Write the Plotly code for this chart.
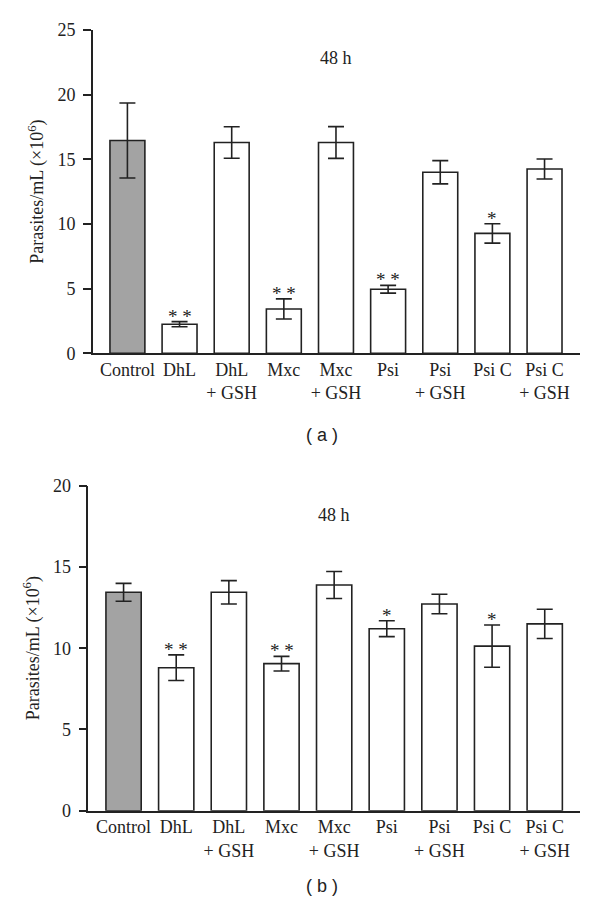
import plotly.graph_objects as go

categories = ["Control", "DhL", "DhL<br>+ GSH", "Mxc", "Mxc<br>+ GSH", "Psi",
              "Psi<br>+ GSH", "Psi C", "Psi C<br>+ GSH"]

# Panel (a) 48 h
values_a = [16.45, 2.25, 16.3, 3.43, 16.3, 4.95, 14.0, 9.27, 14.25]
errors_a = [2.9, 0.2, 1.22, 0.78, 1.23, 0.3, 0.9, 0.75, 0.77]
stars_a = ["", "**", "", "**", "", "**", "", "*", ""]

# Panel (b) 48 h
values_b = [13.44, 8.8, 13.44, 9.05, 13.89, 11.2, 12.72, 10.13, 11.5]
errors_b = [0.55, 0.79, 0.72, 0.45, 0.83, 0.49, 0.6, 1.3, 0.9]
stars_b = ["", "**", "", "**", "", "*", "", "*", ""]

yticks_a = [0, 5, 10, 15, 20, 25]
yticks_b = [0, 5, 10, 15, 20]

INK = "#222222"
SERIF = "Liberation Serif, Times New Roman, serif"
FS = 18
W, H, OFF = 584, 898, 8   # page body has an 8px margin
fill = ["#a3a3a3"] + ["#ffffff"] * (len(categories) - 1)
xs = list(range(len(categories)))


def px_x(v):
    return (v - OFF) / W


def px_y(v):
    return 1 - (v - OFF) / H


fig = go.Figure()
for vals, errs, xa, ya in [(values_a, errors_a, "x", "y"), (values_b, errors_b, "x2", "y2")]:
    fig.add_trace(go.Bar(
        x=xs, y=vals, xaxis=xa, yaxis=ya, width=0.67,
        marker=dict(color=fill, line=dict(color=INK, width=1.6)),
        error_y=dict(type="data", array=errs, visible=True, color=INK,
                     thickness=1.6, width=8),
        showlegend=False, hoverinfo="skip",
    ))

annotations = []
for vals, errs, stars, xa, ya in [(values_a, errors_a, stars_a, "x", "y"),
                                  (values_b, errors_b, stars_b, "x2", "y2")]:
    for i, s in enumerate(stars):
        if s:
            annotations.append(dict(x=i, y=vals[i] + errs[i], xref=xa, yref=ya,
                                    text=" ".join(s), showarrow=False, yanchor="bottom",
                                    yshift=-7, font=dict(family=SERIF, size=19, color=INK)))

annotations.append(dict(x=4, y=22.8, xref="x", yref="y", text="48 h", showarrow=False,
                        font=dict(family=SERIF, size=FS, color=INK)))
annotations.append(dict(x=4, y=18.2, xref="x2", yref="y2", text="48 h", showarrow=False,
                        font=dict(family=SERIF, size=FS, color=INK)))
annotations.append(dict(x=px_x(322), y=px_y(435), xref="paper", yref="paper", text="( a )",
                        showarrow=False, font=dict(family="Liberation Sans, Arial, sans-serif",
                                                   size=18, color=INK)))
annotations.append(dict(x=px_x(322), y=px_y(898), xref="paper", yref="paper", text="( b )",
                        showarrow=False, font=dict(family="Liberation Sans, Arial, sans-serif",
                                                   size=18, color=INK)))

xaxis_common = dict(tickmode="array", tickvals=xs, ticktext=categories, showline=True,
                    linecolor=INK, linewidth=1.6, ticks="", showgrid=False, zeroline=False,
                    automargin=False, ticklabelstandoff=-1,
                    tickfont=dict(family=SERIF, size=FS, color=INK), fixedrange=True)
yaxis_common = dict(tickmode="array", showline=True, linecolor=INK, linewidth=1.6,
                    ticks="outside", ticklen=8, tickwidth=1.6, tickcolor=INK,
                    showgrid=False, zeroline=False, ticklabelstandoff=4, automargin=False,
                    tickfont=dict(family=SERIF, size=FS, color=INK),
                    title=dict(text="Parasites/mL (×10<sup>6</sup>)",
                               font=dict(family=SERIF, size=FS, color=INK), standoff=9))

fig.update_layout(
    width=W, height=H,
    margin=dict(l=0, r=0, t=0, b=0),
    paper_bgcolor="white", plot_bgcolor="white",
    xaxis=dict(domain=[px_x(93), px_x(580)], range=[-0.66, 8.68], anchor="y", **xaxis_common),
    yaxis=dict(domain=[px_y(353.3), px_y(30)], range=[0, 25], tickvals=yticks_a,
               anchor="x", **yaxis_common),
    xaxis2=dict(domain=[px_x(88.3), px_x(580)], range=[-0.67, 8.67], anchor="y2", **xaxis_common),
    yaxis2=dict(domain=[px_y(810.7), px_y(485.7)], range=[0, 20], tickvals=yticks_b,
                anchor="x2", **yaxis_common),
    annotations=annotations,
)

fig.write_html("out.html")
